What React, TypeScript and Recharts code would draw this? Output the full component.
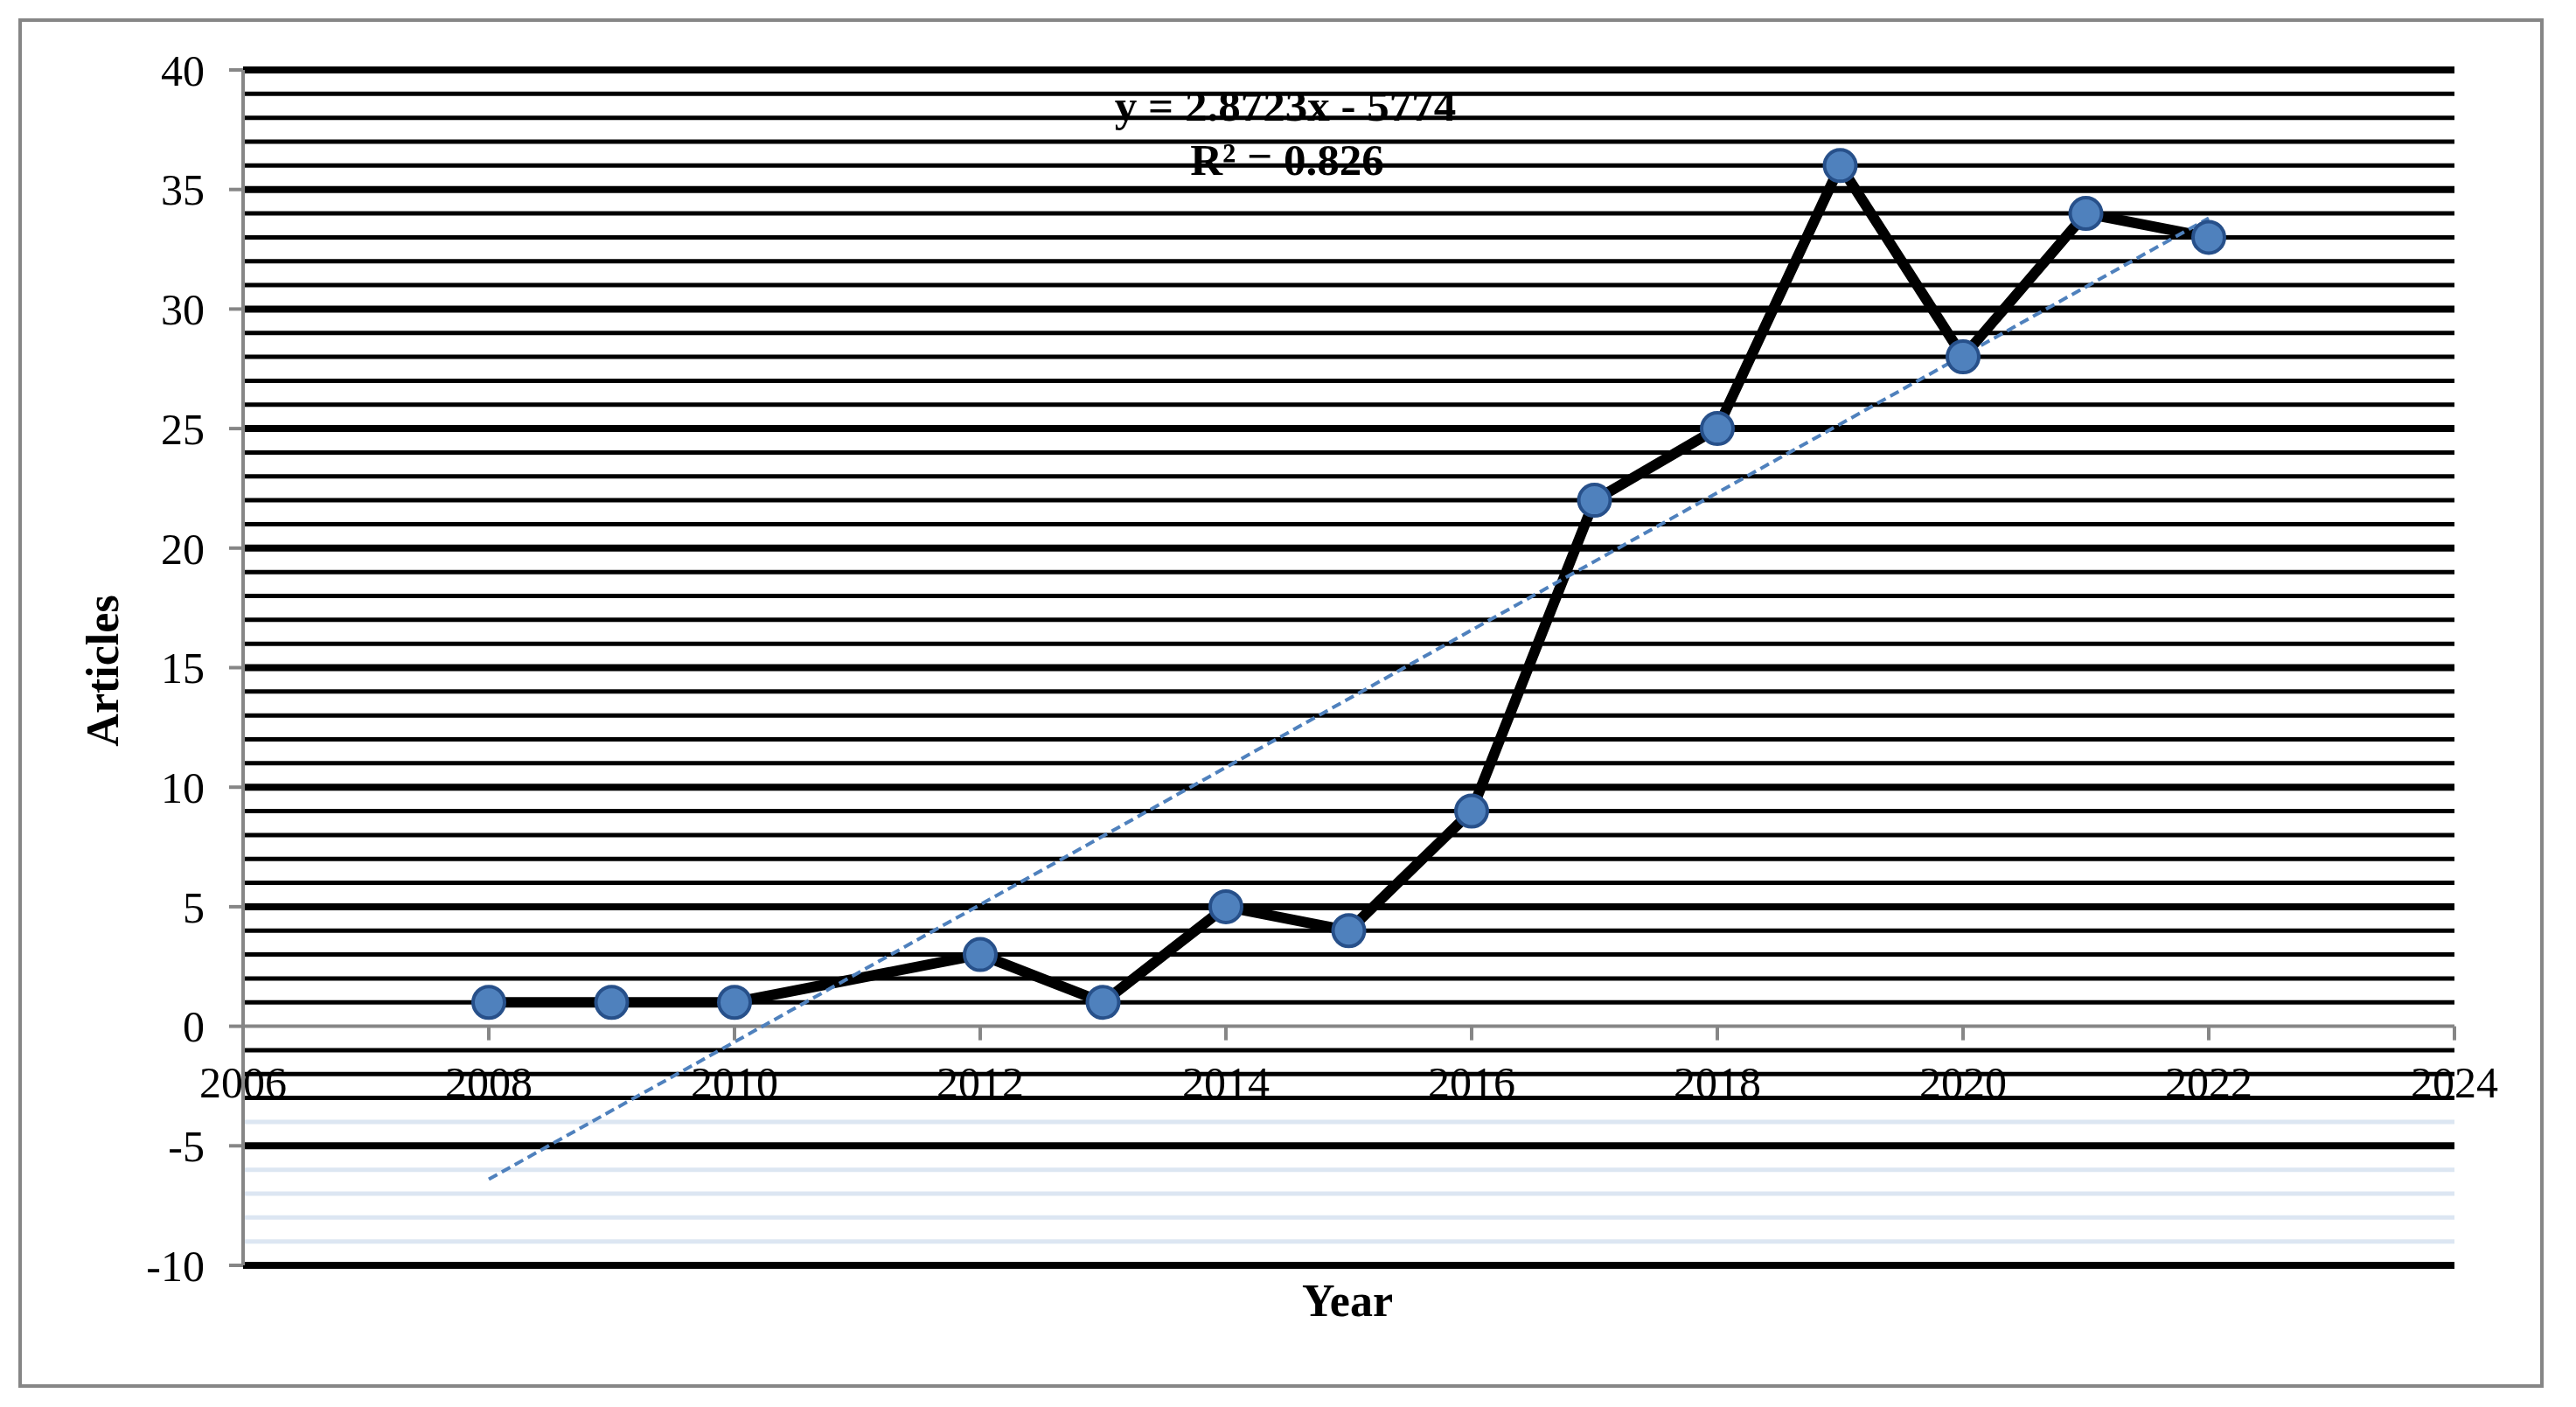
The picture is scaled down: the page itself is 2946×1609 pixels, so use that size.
import React from 'react';
import { LineChart, Line, XAxis, YAxis, CartesianGrid, ReferenceLine, ReferenceDot } from 'recharts';

// ---- data ----
const years = [2008, 2009, 2010, 2012, 2013, 2014, 2015, 2016, 2017, 2018, 2019, 2020, 2021, 2022];
const articles = [1, 1, 1, 3, 1, 5, 4, 9, 22, 25, 36, 28, 34, 33];
const trendYears = [2008, 2022];
const trendValues = [-6.4, 33.8];
const xTicks = [2006, 2008, 2010, 2012, 2014, 2016, 2018, 2020, 2022, 2024];
const yTicks = [-10, -5, 0, 5, 10, 15, 20, 25, 30, 35, 40];
const majorGrid = [-10, -5, 5, 10, 15, 20, 25, 30, 35, 40];
const minorDarkGrid = [-3, -2, -1, 1, 2, 3, 4, 6, 7, 8, 9, 11, 12, 13, 14, 16, 17, 18, 19, 21, 22, 23, 24, 26, 27, 28, 29, 31, 32, 33, 34, 36, 37, 38, 39];
const minorLightGrid = [-9, -8, -7, -6, -4];
const equationText = 'y = 2.8723x - 5774';
const rSquaredText = 'R² = 0.826';
const xTitle = 'Year';
const yTitle = 'Articles';

const seriesData = years.map((year, i) => ({ year, articles: articles[i] }));
const trendData = trendYears.map((year, i) => ({ year, trend: trendValues[i] }));

const AXIS = '#868686';
const FONT = '"Liberation Serif", "Times New Roman", serif';
const MARKER_FILL = '#4F81BD';
const MARKER_STROKE = '#27508A';

const XTickMark = (props: any) => {
  const { cx, cy, label } = props;
  if (cx == null || cy == null) return null;
  return (
    <g>
      <line x1={cx} x2={cx} y1={cy} y2={cy + 16} stroke={AXIS} strokeWidth={4} />
      <text x={cx} y={cy + 81} textAnchor="middle" fontFamily={FONT} fontSize={50} fill="#000">
        {label}
      </text>
    </g>
  );
};

export default function App() {
  return (
    <div style={{ position: 'absolute', left: 0, top: 0, width: 2946, height: 1609, background: '#fff' }}>
      <div
        style={{
          position: 'absolute',
          left: 21,
          top: 21,
          width: 2888,
          height: 1566,
          border: `4px solid ${AXIS}`,
          boxSizing: 'border-box',
        }}
      />
      <div style={{ position: 'absolute', left: 0, top: 0 }}>
        <LineChart
          width={2946}
          height={1609}
          data={seriesData}
          margin={{ top: 80, right: 139, bottom: 162, left: 20 }}
        >
          <CartesianGrid horizontal vertical={false} horizontalValues={minorLightGrid} stroke="#DCE6F2" strokeWidth={5} />
          <CartesianGrid horizontal vertical={false} horizontalValues={minorDarkGrid} stroke="#000" strokeWidth={5} />
          <CartesianGrid horizontal vertical={false} horizontalValues={majorGrid} stroke="#000" strokeWidth={8} />
          <XAxis dataKey="year" type="number" domain={[2006, 2024]} ticks={xTicks} hide allowDataOverflow />
          <YAxis
            type="number"
            domain={[-10, 40]}
            ticks={yTicks}
            width={258}
            tickSize={16}
            tickMargin={28}
            axisLine={{ stroke: AXIS, strokeWidth: 4 }}
            tickLine={{ stroke: AXIS, strokeWidth: 4 }}
            tick={{ fontFamily: FONT, fontSize: 50, fill: '#000' }}
            allowDataOverflow
          />
          <ReferenceLine y={0} stroke={AXIS} strokeWidth={4} />
          {xTicks.map((t) => (
            <ReferenceDot
              key={t}
              x={t}
              y={0}
              r={0}
              ifOverflow="visible"
              shape={(p: any) => <XTickMark {...p} label={t} />}
            />
          ))}
          <Line
            dataKey="articles"
            stroke="#000"
            strokeWidth={12}
            dot={false}
            activeDot={false}
            isAnimationActive={false}
          />
          <Line
            data={trendData}
            dataKey="trend"
            stroke="#4F81BD"
            strokeWidth={4}
            strokeDasharray="11 6"
            dot={false}
            activeDot={false}
            isAnimationActive={false}
          />
          <Line
            dataKey="articles"
            stroke="none"
            dot={{ r: 18, fill: MARKER_FILL, stroke: MARKER_STROKE, strokeWidth: 4 }}
            activeDot={false}
            isAnimationActive={false}
          />
          <text x={1470} y={138} textAnchor="middle" fontFamily={FONT} fontSize={51} fontWeight="bold" fill="#000">
            {equationText}
          </text>
          <text x={1472} y={200} textAnchor="middle" fontFamily={FONT} fontSize={51} fontWeight="bold" fill="#000">
            {rSquaredText}
          </text>
          <text x={1541} y={1505} textAnchor="middle" fontFamily={FONT} fontSize={52} fontWeight="bold" fill="#000">
            {xTitle}
          </text>
          <text
            x={135}
            y={767}
            textAnchor="middle"
            transform="rotate(-90 135 767)"
            fontFamily={FONT}
            fontSize={52}
            fontWeight="bold"
            fill="#000"
          >
            {yTitle}
          </text>
        </LineChart>
      </div>
    </div>
  );
}
